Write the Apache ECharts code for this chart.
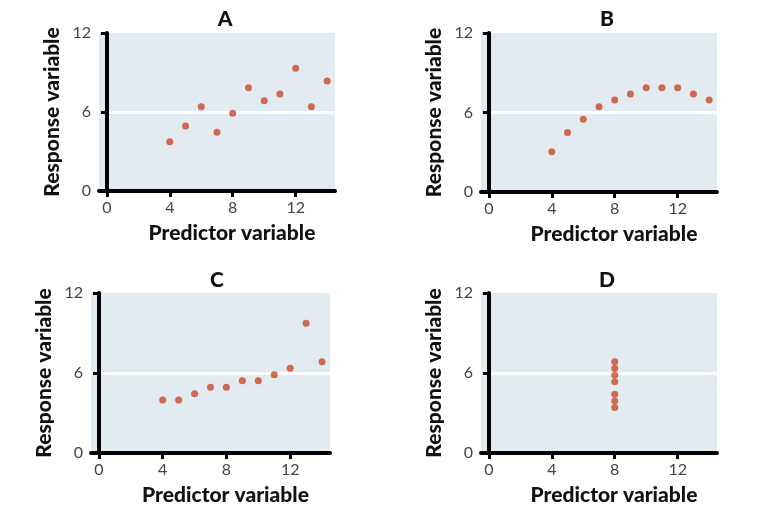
<!DOCTYPE html>
<html>
<head>
<meta charset="utf-8">
<script src="https://cdn.jsdelivr.net/npm/echarts@6/dist/echarts.min.js"></script>
<style>
html,body{margin:0;padding:0;background:#fff;}
#chart{width:757px;height:510px;}
</style>
</head>
<body>
<div id="chart"></div>
<script>
// ---- data ----
const panelTitles = ['A', 'B', 'C', 'D'];
const xTickValues = [0, 4, 8, 12];
const yTickValues = [0, 6, 12];
const xABC = [4, 5, 6, 7, 8, 9, 10, 11, 12, 13, 14];
const yA = [3.74, 4.94, 6.40, 4.46, 5.90, 7.84, 6.86, 7.37, 9.32, 6.40, 8.35];
const yB = [3.04, 4.50, 5.49, 6.44, 6.94, 7.40, 7.87, 7.87, 7.87, 7.40, 6.94];
const yC = [3.98, 3.98, 4.45, 4.93, 4.93, 5.42, 5.42, 5.87, 6.35, 9.73, 6.85];
const xD = [8, 8, 8, 8, 8, 8, 8];
const yD = [6.85, 6.35, 5.85, 5.35, 4.40, 3.90, 3.42];
const xAxisName = 'Predictor variable';
const yAxisName = 'Response variable';

// ---- layout ----
const grids = [
  {left: 99, top: 33, width: 236, height: 158},
  {left: 481, top: 33, width: 236, height: 159},
  {left: 91, top: 293, width: 239, height: 160},
  {left: 481, top: 293, width: 236, height: 160}
];
const titlePos = [[220, 4], [602, 4], [212, 265], [602, 265]];
const seriesData = [
  [xABC, yA], [xABC, yB], [xABC, yC], [xD, yD]
];

const labelFont = 'Lato, "Open Sans", sans-serif';
const option = {
  backgroundColor: '#ffffff',
  animation: false,
  title: panelTitles.map((t, i) => ({
    text: t, left: titlePos[i][0], top: titlePos[i][1], textAlign: 'center',
    textStyle: {fontFamily: labelFont, fontWeight: 900, fontSize: 21, color: '#111'}
  })),
  grid: grids.map(g => Object.assign({show: true, backgroundColor: '#e2ebf0', borderWidth: 0, containLabel: false}, g)),
  xAxis: grids.map((g, i) => ({
    type: 'value', gridIndex: i, min: -0.5, max: 14.5,
    name: xAxisName, nameLocation: 'middle', nameGap: 32,
    nameTextStyle: {fontFamily: labelFont, fontWeight: 900, fontSize: 21, color: '#111', padding: [0, 0, 0, 30]},
    axisLine: {show: true, onZero: false, lineStyle: {color: '#000', width: 4}},
    axisTick: {show: true, length: 6, lineStyle: {color: '#000', width: 3}, customValues: xTickValues},
    axisLabel: {fontFamily: labelFont, fontSize: 16, color: '#444', margin: 9, customValues: xTickValues},
    splitLine: {show: false}
  })),
  yAxis: grids.map((g, i) => ({
    type: 'value', gridIndex: i, min: 0, max: 12, interval: 6,
    name: yAxisName, nameLocation: 'middle', nameGap: 36,
    nameTextStyle: {fontFamily: labelFont, fontWeight: 900, fontSize: 21, color: '#111'},
    axisLine: {show: true, lineStyle: {color: '#000', width: 4}},
    axisTick: {show: true, length: 6, lineStyle: {color: '#000', width: 3}},
    axisLabel: {fontFamily: labelFont, fontSize: 16, color: '#444', margin: 8},
    splitLine: {show: true, lineStyle: {color: ['rgba(0,0,0,0)', '#ffffff', 'rgba(0,0,0,0)'], width: 3}}
  })),
  series: seriesData.map((d, i) => ({
    type: 'scatter', xAxisIndex: i, yAxisIndex: i,
    symbol: 'circle', symbolSize: 7,
    itemStyle: {color: '#c9482c'},
    data: d[0].map((x, k) => [x, d[1][k]])
  }))
};

const chart = echarts.init(document.getElementById('chart'), null, {renderer: 'canvas'});
chart.setOption(option);
</script>
</body>
</html>
